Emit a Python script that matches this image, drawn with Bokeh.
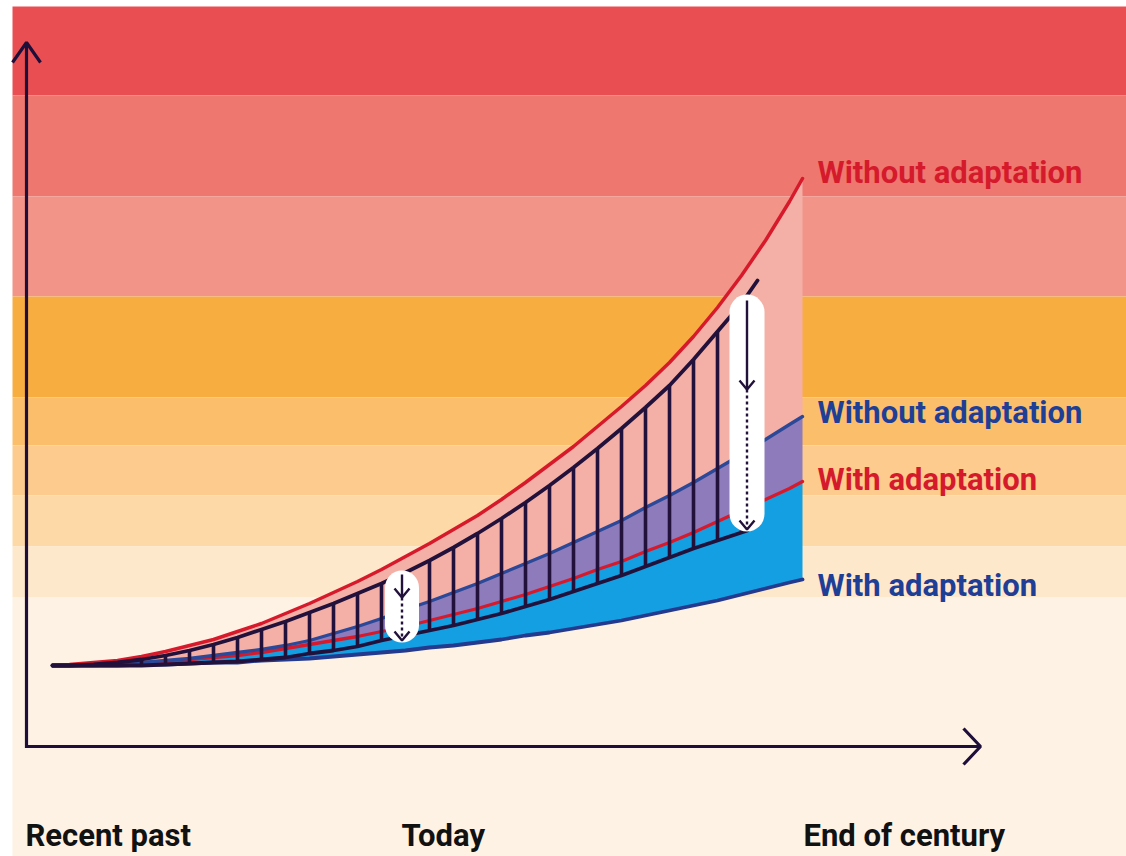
from bokeh.plotting import figure
from bokeh.models import Range1d
from bokeh.embed import file_html
from bokeh.resources import INLINE
from bokeh.core.properties import value

# ---------------- data (time index vs. risk level) ----------------
t = [0, 17, 41, 65, 89, 113, 137, 161, 185, 209, 233, 257, 281, 305, 329, 353,
     377, 401, 425, 449, 473, 497, 521, 545, 569, 593, 617, 641, 665, 689,
     713, 737, 750]

# climate hazard, without adaptation (red, top)
risk_hazard_no_adapt = [0, 1, 3, 5, 9, 14, 20, 26, 34, 42, 52, 62, 73, 84, 96, 109,
                        122, 136, 150, 166, 183, 201, 219, 239, 259, 280, 303, 329,
                        358, 390, 425, 464, 487]
# impact without adaptation (blue)
risk_impact_no_adapt = [0, 0, 1, 2, 3, 5, 7, 10, 13, 16, 20, 25, 32, 39, 47, 56,
                        64, 73, 82, 92, 102, 112, 123, 134, 145, 158, 170, 183,
                        197, 211, 226, 241, 249]
# hazard with adaptation (red, lower)
risk_hazard_adapt = [0, 0, 0, 1, 2, 4, 6, 8, 10, 13, 17, 21, 25, 29, 34, 39,
                     45, 51, 57, 64, 71, 79, 87, 96, 104, 114, 123, 133,
                     144, 155, 166, 177, 184]
# impact with adaptation (dark blue, bottom)
risk_impact_adapt = [0, 0, 0, 0, 1, 1, 2, 3, 3, 5, 6, 7, 9, 11, 13, 15,
                     18, 20, 23, 26, 30, 33, 37, 41, 45, 50, 55, 60,
                     65, 71, 77, 83, 86]

# hatched band (navy)
band_top_x = t[:30] + [705]
band_top_y = [0, 0, 1, 3, 6, 10, 15, 21, 28, 36, 44, 53, 62, 72, 82, 93,
              105, 118, 132, 147, 163, 180, 198, 217, 237, 258, 280, 306,
              334, 362, 385]
band_bot_x = t[:30] + [695]
band_bot_y = [0, 0, 0, 0, 0, 1, 2, 3, 4, 6, 8, 12, 15, 19, 25, 30,
              35, 40, 46, 52, 59, 66, 74, 82, 90, 99, 108, 117,
              125, 133, 135]

# background risk bands
bg_top = [659, 570, 469, 369, 268, 220, 170, 119, 68]
bg_bottom = [570, 469, 369, 268, 220, 170, 119, 68, -195]
bg_colors = ["#E94E52", "#EE776F", "#F29488", "#F8AD40", "#FBBF6C",
             "#FCCB8D", "#FDD9A8", "#FEE8CC", "#FEF2E4"]

series_labels = ["Without adaptation", "Without adaptation", "With adaptation", "With adaptation"]
time_labels = ["Recent past", "Today", "End of century"]

RED = "#D71A2B"
BLUE = "#2B4899"
DBLUE = "#233A8E"
NAVY = "#22113B"

p = figure(width=1126, height=856, x_range=Range1d(-52, 1074), y_range=Range1d(-191, 665),
           output_backend="svg", toolbar_location=None,
           x_axis_location=None, y_axis_location=None, min_border=0,
           background_fill_color="white", border_fill_color="white")
p.outline_line_color = None
if p.title is not None:
    p.title.visible = False
for g in p.grid:
    g.visible = False

# background bands
p.quad(left=-40, right=1080, top=bg_top, bottom=bg_bottom,
       fill_color=bg_colors, line_color=None)

# fills
p.varea(x=t, y1=risk_impact_no_adapt, y2=risk_hazard_no_adapt, fill_color="#F4B0A6")
p.varea(x=t, y1=risk_hazard_adapt, y2=risk_impact_no_adapt, fill_color="#8E7BBB")
p.varea(x=t, y1=risk_impact_adapt, y2=risk_hazard_adapt, fill_color="#139FE2")

# curves
p.line(t, risk_impact_adapt, line_color=DBLUE, line_width=3.8, line_cap="round")
p.line(t, risk_hazard_adapt, line_color=RED, line_width=3.3, line_cap="round")
p.line(t, risk_impact_no_adapt, line_color=BLUE, line_width=3.3, line_cap="round")
p.line(t, risk_hazard_no_adapt, line_color=RED, line_width=3.5, line_cap="round")

# hatched band
p.segment(x0=t[1:30], y0=band_bot_y[1:30], x1=t[1:30], y1=band_top_y[1:30],
          line_color=NAVY, line_width=3.6)
p.line(band_top_x, band_top_y, line_color=NAVY, line_width=3.8, line_cap="round")
p.line(band_bot_x, band_bot_y, line_color=NAVY, line_width=3.8, line_cap="round")

# white pills
p.segment(x0=[349.5, 694.5], y0=[78, 353.5], x1=[349.5, 694.5], y1=[40, 151.5],
          line_color="white", line_width=[34, 35], line_cap="round")

# arrows inside pills
p.segment(x0=[349.5, 694.5], y0=[91, 365], x1=[349.5, 694.5], y1=[68, 276],
          line_color=NAVY, line_width=2.4)
p.segment(x0=[349.5, 694.5], y0=[68, 276], x1=[349.5, 694.5], y1=[26, 137],
          line_color=NAVY, line_width=2.4, line_dash="3 3")
p.multi_line(xs=[[342, 349.5, 357], [342, 349.5, 357],
                 [687, 694.5, 702], [687, 694.5, 702]],
             ys=[[77, 68, 77], [34, 25, 34], [285, 276, 285], [145, 136, 145]],
             line_color=NAVY, line_width=2.4)

# axes with arrows
p.line([-26, -26, 928], [623, -81, -81], line_color="#1E0F3A", line_width=3.2, line_join="miter")
p.multi_line(xs=[[-40, -26, -12], [911, 928, 911]],
             ys=[[603, 623, 603], [-63, -81, -99]],
             line_color="#1E0F3A", line_width=3.2)

# series labels
p.text(x=[765, 765, 765, 765], y=[493, 253, 186, 80], text=series_labels,
       text_color=["#D51A2C", "#1F3F96", "#D51A2C", "#1F3F96"],
       text_font=value("Roboto"), text_font_style="bold", text_font_size="31px",
       text_baseline="alphabetic", text_align="left")

# time labels
p.text(x=[-27, 349, 751], y=[-170, -170, -170], text=time_labels,
       text_color="#111111", text_font=value("Roboto"), text_font_style="bold",
       text_font_size="31px", text_baseline="alphabetic", text_align="left")

open("out.html", "w").write(file_html(p, INLINE))
